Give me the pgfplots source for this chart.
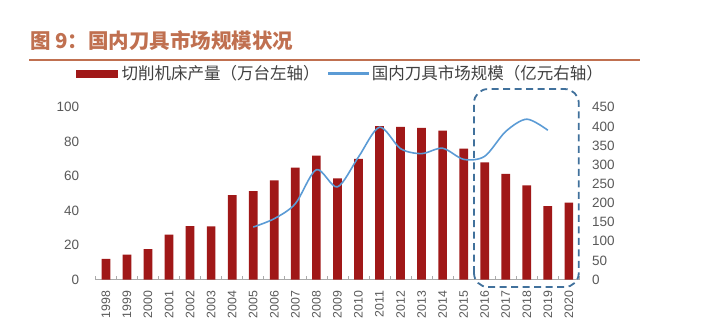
\documentclass[border=0pt]{standalone}
\usepackage{pgfplots}
\pgfplotsset{compat=1.18}
\usepackage{fontspec}
\setmainfont{Liberation Sans}
\newfontfamily\cjk{Noto Sans CJK SC}
\definecolor{barred}{RGB}{160,24,24}
\definecolor{lineblue}{RGB}{91,155,213}
\definecolor{titlec}{RGB}{192,112,80}
\definecolor{boxblue}{RGB}{65,113,156}
\definecolor{tickgray}{RGB}{89,89,89}
\definecolor{axgray}{RGB}{170,170,170}
\definecolor{legtext}{RGB}{64,64,64}
\begin{document}
\begin{tikzpicture}[x=1pt,y=1pt]
\useasboundingbox (0,0) rectangle (706,324);
\node[anchor=west, inner sep=0pt, text=titlec, font=\cjk\bfseries\fontsize{20.5}{24}\selectfont] at (30,283) {图 9：国内刀具市场规模状况};
\draw[titlec, line width=2pt] (29,264) -- (640,264);

\begin{axis}[
  at={(95.4pt,44.5pt)}, anchor=south west,
  scale only axis, width=484pt, height=172.2pt,
  xmin=-0.5, xmax=22.5, ymin=0, ymax=100,
  axis x line*=bottom, axis y line*=left,
  x axis line style={axgray, line width=0.8pt, -},
  y axis line style={draw=none},
  ytick={0,20,...,100},
  ytick style={draw=none},
  yticklabel style={text=tickgray, font=\fontsize{13.5}{15}\selectfont, inner sep=0pt, anchor=east},
  yticklabel shift=16pt,
  xtick={0,...,22},
  xticklabels={1998,1999,2000,2001,2002,2003,2004,2005,2006,2007,2008,2009,2010,2011,2012,2013,2014,2015,2016,2017,2018,2019,2020},
  major x tick style={draw=none},
  minor xtick={-0.5,0.5,...,22.5},
  minor tick length=4pt,
  tick align=inside,
  minor x tick style={axgray, line width=0.6pt},
  xticklabel style={rotate=90, anchor=east, inner sep=0pt, text=tickgray, font=\fontsize{12.3}{14}\selectfont},
  xticklabel shift=11pt,
  /pgf/number format/assume math mode=true,
  clip=false,
]
\addplot[ybar, bar width=8.7pt, fill=barred, draw=none] coordinates {
(0,12) (1,14.5) (2,17.6) (3,26) (4,31) (5,30.8) (6,49) (7,51.3) (8,57.5) (9,65) (10,72) (11,58.7) (12,70) (13,89) (14,88.7) (15,88) (16,86.4) (17,76) (18,68) (19,61.4) (20,54.6) (21,42.6) (22,44.6)
};
\end{axis}

\begin{axis}[
  at={(95.4pt,44.5pt)}, anchor=south west,
  scale only axis, width=484pt, height=172.2pt,
  xmin=-0.5, xmax=22.5, ymin=0, ymax=450,
  axis x line=none, axis y line*=right,
  y axis line style={draw=none},
  ytick={0,50,...,450},
  ytick style={draw=none},
  yticklabel style={text=tickgray, font=\fontsize{13.5}{15}\selectfont, inner sep=0pt, anchor=west},
  yticklabel shift=12.4pt,
  /pgf/number format/assume math mode=true,
  clip=false,
  legend columns=2,
  legend style={at={(-0.0401,1.196)}, anchor=west, draw=none, fill=none, inner sep=0pt,
    nodes={inner sep=0pt, text=legtext, font=\cjk\fontsize{16.5}{18}\selectfont},
    /tikz/every odd column/.append style={column sep=4pt},
    /tikz/every even column/.append style={column sep=8pt}},
]
\addlegendimage{legend image code/.code={\fill[barred] (0pt,-3.2pt) rectangle (41pt,3.2pt);}}
\addlegendentry{切削机床产量（万台左轴）}
\addlegendimage{legend image code/.code={\fill[lineblue] (0pt,-0.9pt) rectangle (40pt,0.9pt);}}
\addlegendentry{国内刀具市场规模（亿元右轴）}
\addplot[lineblue, line width=1.6pt, smooth, forget plot] coordinates {
(7,137) (8,159) (9,198) (10,287) (11,242) (12,320) (13,398) (14,342) (15,329) (16,343) (17,314) (18,322) (19,387) (20,419) (21,390)
};
\draw[boxblue, line width=1.8pt, dash pattern=on 7pt off 4.5pt, rounded corners=14pt]
  (axis cs:17.49,-19.6) rectangle (axis cs:22.47,497.7);
\end{axis}
\end{tikzpicture}
\end{document}
